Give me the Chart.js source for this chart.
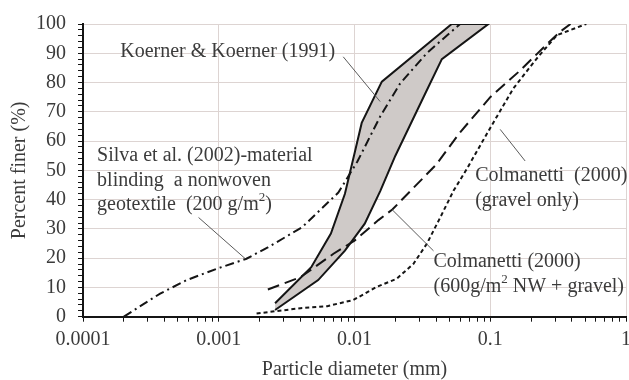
<!DOCTYPE html>
<html>
<head>
<meta charset="utf-8">
<script src="https://cdn.jsdelivr.net/npm/chart.js@4.4.1/dist/chart.umd.min.js"></script>
<style>
  html, body { margin: 0; padding: 0; background: #fff; }
</style>
</head>
<body>
<canvas id="chart" width="629" height="380"></canvas>
<script>
// particle diameter (mm) / percent finer (%)

// Koerner & Koerner (1991) band, fine side and coarse side
const koernerFineD = [0.0026, 0.0048, 0.0067, 0.0085, 0.0101, 0.0113, 0.0159, 0.052];
const koernerFineP = [4.6, 16.9, 28.4, 42, 56.6, 66.2, 80.3, 100];
const koernerCoarseD = [0.0026, 0.0054, 0.0085, 0.0119, 0.0155, 0.020, 0.033, 0.044, 0.097];
const koernerCoarseP = [2.3, 12.5, 22.6, 31.8, 43, 55, 76, 88, 100];

// Silva et al. (2002)
const silvaD = [0.0002, 0.00026, 0.00037, 0.00058, 0.00097, 0.0016, 0.0023, 0.0041, 0.0076, 0.0105, 0.0155, 0.0217, 0.034, 0.06];
const silvaP = [0, 3.4, 7.9, 12.5, 16.4, 19.8, 23.7, 30.5, 42.4, 53, 68.5, 79.7, 90, 100];

// Colmanetti (2000) 600 g/m2 NW + gravel
const nwD = [0.0023, 0.004, 0.007, 0.01, 0.015, 0.019, 0.04, 0.06, 0.1, 0.165, 0.26, 0.33, 0.39];
const nwP = [9.3, 13.5, 21.5, 26, 33, 36.6, 52, 63, 75, 84, 93, 97.5, 100];

// Colmanetti (2000) gravel only
const gravelD = [0.0019, 0.004, 0.0063, 0.0098, 0.0146, 0.0205, 0.0272, 0.0341, 0.0428, 0.0536, 0.0672, 0.1, 0.148, 0.22, 0.31, 0.51];
const gravelP = [1.1, 2.9, 3.6, 5.7, 10.2, 13, 18.1, 24.9, 33.9, 43, 50.5, 64.5, 78, 88.2, 96.2, 100];

// axis ticks
const xTickLabels = ['0.0001', '0.001', '0.01', '0.1', '1'];
const yTickLabels = ['0', '10', '20', '30', '40', '50', '60', '70', '80', '90', '100'];

// annotation texts (^2 = superscript)
const noteKoerner = ['Koerner & Koerner (1991)'];
const noteSilva = ['Silva et al. (2002)-material', 'blinding  a nonwoven', 'geotextile  (200 g/m^2)'];
const noteGravel = ['Colmanetti  (2000)', '(gravel only)'];
const noteNW = ['Colmanetti (2000)', '(600g/m^2 NW + gravel)'];

const xTickValues = xTickLabels.map(Number);
const yTickValues = yTickLabels.map(Number);

const pts = (xs, ys) => xs.map((x, i) => ({ x: x, y: ys[i] }));

const FONT = '"Liberation Serif", "Times New Roman", serif';
const TEXT = '#3b3b3b';
const INK = '#151515';
const GRID = '#ddd4d2';

const isDecade = (v) => xTickValues.some((d) => Math.abs(v - d) / d < 1e-6);

// text labels and leader lines, placed in data units
const notesPlugin = {
  id: 'notes',
  afterDatasetsDraw(chart, args, opts) {
    const ctx = chart.ctx;
    const xs = chart.scales.x, ys = chart.scales.y;
    ctx.save();
    ctx.strokeStyle = '#5a5a5a';
    ctx.lineWidth = 1;
    opts.leaders.forEach((l) => {
      ctx.beginPath();
      ctx.moveTo(xs.getPixelForValue(l[0]), ys.getPixelForValue(l[1]));
      ctx.lineTo(xs.getPixelForValue(l[2]), ys.getPixelForValue(l[3]));
      ctx.stroke();
    });
    ctx.fillStyle = TEXT;
    ctx.textBaseline = 'middle';
    ctx.textAlign = 'left';
    opts.labels.forEach((lab) => {
      let px = xs.getPixelForValue(lab.x);
      let py = ys.getPixelForValue(lab.y);
      lab.lines.forEach((line, i) => {
        const y = py + i * opts.lineGap;
        let x = px;
        line.split('^').forEach((part, j) => {
          if (j > 0) {
            ctx.font = '13px ' + FONT;
            ctx.fillText(part[0], x, y - 7);
            x += ctx.measureText(part[0]).width;
            part = part.slice(1);
          }
          ctx.font = '20px ' + FONT;
          ctx.fillText(part, x, y);
          x += ctx.measureText(part).width;
        });
      });
    });
    ctx.restore();
  }
};

const lineSet = (label, data, dash) => ({
  label: label,
  data: data,
  showLine: true,
  borderColor: INK,
  borderWidth: 2,
  borderDash: dash,
  pointRadius: 0,
  fill: false,
  tension: 0
});

const bandData = pts(koernerFineD, koernerFineP)
  .concat(pts(koernerCoarseD, koernerCoarseP).reverse());

const chart = new Chart(document.getElementById('chart').getContext('2d'), {
  type: 'scatter',
  data: {
    datasets: [
      lineSet('Silva et al. (2002)', pts(silvaD, silvaP), [9, 4, 2, 4]),
      lineSet('Colmanetti (2000) 600g/m2 NW + gravel', pts(nwD, nwP), [12, 6]),
      lineSet('Colmanetti (2000) gravel only', pts(gravelD, gravelP), [4, 3]),
      {
        label: 'Koerner & Koerner (1991)',
        data: bandData,
        showLine: true,
        borderColor: INK,
        borderWidth: 2,
        pointRadius: 0,
        backgroundColor: '#cfcac8',
        fill: 'shape',
        tension: 0
      }
    ]
  },
  options: {
    responsive: false,
    animation: false,
    layout: { padding: { top: 22, left: 0, right: 0, bottom: 0 } },
    plugins: {
      legend: { display: false },
      tooltip: { enabled: false },
      notes: {
        lineGap: 24.5,
        labels: [
          { lines: noteKoerner, x: 0.000188, y: 90.5 },
          { lines: noteSilva, x: 0.000127, y: 54.9 },
          { lines: noteGravel, x: 0.0774, y: 48.1 },
          { lines: noteNW, x: 0.0382, y: 18.7 }
        ],
        leaders: [
          [0.00826, 88.8, 0.01545, 73.5],
          [0.00071, 33.9, 0.00157, 19.8],
          [0.1183, 64, 0.1807, 53.2],
          [0.0189, 36.6, 0.0382, 22.5]
        ]
      }
    },
    scales: {
      x: {
        type: 'logarithmic',
        min: 0.0001,
        max: 1,
        afterBuildTicks: (scale) => {
          const t = [];
          xTickValues.slice(0, -1).forEach((d) => {
            for (let k = 1; k < 10; k++) t.push({ value: k * d });
          });
          t.push({ value: xTickValues[xTickValues.length - 1] });
          scale.ticks = t;
        },
        afterFit: (scale) => {
          scale.height = 63.3;
          scale.paddingRight = 3;
        },
        ticks: {
          autoSkip: false,
          maxRotation: 0,
          padding: 6,
          color: TEXT,
          font: { family: FONT, size: 20 },
          callback: (v) => {
            const i = xTickValues.findIndex((d) => Math.abs(v - d) / d < 1e-6);
            return i >= 0 ? xTickLabels[i] : '';
          }
        },
        grid: {
          color: (c) => (c.tick && isDecade(c.tick.value) && c.tick.value > 0.0001 ? GRID : 'rgba(0,0,0,0)'),
          tickColor: INK,
          tickLength: 5,
          lineWidth: 1
        },
        border: { color: INK, width: 2 },
        title: {
          display: true,
          text: 'Particle diameter (mm)',
          color: TEXT,
          font: { family: FONT, size: 20, lineHeight: 1 },
          padding: 0
        }
      },
      y: {
        min: 0,
        max: 100,
        afterBuildTicks: (scale) => {
          const t = [];
          for (let v = 0; v <= 100; v += 2) t.push({ value: v });
          scale.ticks = t;
        },
        afterFit: (scale) => {
          scale.width = 83;
        },
        ticks: {
          autoSkip: false,
          padding: 12,
          color: TEXT,
          font: { family: FONT, size: 20 },
          callback: (v) => {
            const i = yTickValues.indexOf(v);
            return i >= 0 ? yTickLabels[i] : '';
          }
        },
        grid: {
          color: (c) => (c.tick && c.tick.value % 10 === 0 && c.tick.value > 0 ? GRID : 'rgba(0,0,0,0)'),
          tickColor: INK,
          tickLength: 5,
          lineWidth: 1
        },
        border: { color: INK, width: 2 },
        title: {
          display: true,
          text: 'Percent finer (%)',
          color: TEXT,
          font: { family: FONT, size: 20, lineHeight: 1.2 },
          padding: { top: 8, bottom: 0 }
        }
      }
    }
  },
  plugins: [notesPlugin]
});
</script>
</body>
</html>
